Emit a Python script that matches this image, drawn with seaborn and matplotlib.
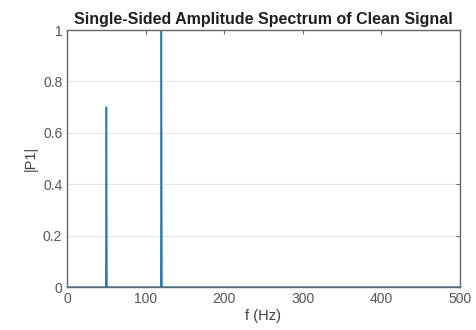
import numpy as np
import pandas as pd
import matplotlib
matplotlib.use("Agg")
import matplotlib.pyplot as plt
import seaborn as sns

# Spectrum data: frequency (Hz) and single-sided amplitude
freq = [0, 49.3, 50.0, 50.7, 119.3, 120.0, 120.7, 500]
amp = [0, 0, 0.7, 0, 0, 1.0, 0, 0]
x_ticks = [0, 100, 200, 300, 400, 500]
y_ticks = [0, 0.2, 0.4, 0.6, 0.8, 1]
y_labels = ["0", "0.2", "0.4", "0.6", "0.8", "1"]

df = pd.DataFrame({"f": freq, "P1": amp})

sns.set_style("white")
plt.rcParams["font.family"] = ["Liberation Sans", "DejaVu Sans"]

fig = plt.figure(figsize=(4.76, 3.30), dpi=100)
ax = fig.add_axes([0.141, 0.130, 0.825, 0.779])

sns.lineplot(data=df, x="f", y="P1", ax=ax, color="#1f77b8", linewidth=1.1)

ax.set_xlim(0, 500)
ax.set_ylim(0, 1)
ax.set_xticks(x_ticks)
ax.set_yticks(y_ticks)
ax.set_yticklabels(y_labels)
ax.yaxis.grid(True, color="#e6e6e6", linewidth=0.8)
ax.set_axisbelow(True)
for s in ax.spines.values():
    s.set_visible(True)
    s.set_color("#666666")
    s.set_linewidth(1.0)
ax.tick_params(direction="in", length=3, top=True, right=True, color="#666666",
               labelsize=10, labelcolor="#555555")
ax.set_xlabel("f (Hz)", fontsize=10.5, color="#404040", labelpad=2)
ax.set_ylabel("|P1|", fontsize=10.5, color="#404040", labelpad=4)
ax.set_title("Single-Sided Amplitude Spectrum of Clean Signal", fontsize=11.5,
             fontweight="bold", color="#202020", pad=4)

fig.savefig("out.png", dpi=100)
